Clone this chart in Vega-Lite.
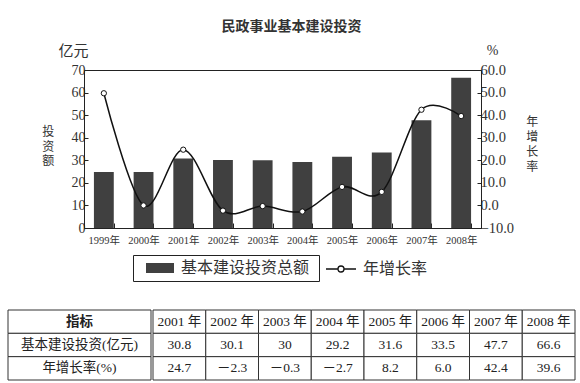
{
  "$schema": "https://vega.github.io/schema/vega-lite/v6.json",
  "padding": {"left": 7, "top": 19, "right": 5, "bottom": 5},
  "background": "white",
  "config": {"view": {"stroke": null}, "font": "'Liberation Serif', 'Noto Sans CJK SC'"},
  "title": {"text": "民政事业基本建设投资", "font": "'Noto Sans CJK SC'", "fontSize": 14, "fontWeight": "bold", "color": "#333", "anchor": "middle", "offset": 9},
  "datasets": {
    "main": [
      {"year": "1999年", "invest": 24.8, "growth": 49.7},
      {"year": "2000年", "invest": 24.8, "growth": 0.0},
      {"year": "2001年", "invest": 30.8, "growth": 24.7},
      {"year": "2002年", "invest": 30.1, "growth": -2.3},
      {"year": "2003年", "invest": 30.0, "growth": -0.3},
      {"year": "2004年", "invest": 29.2, "growth": -2.7},
      {"year": "2005年", "invest": 31.6, "growth": 8.2},
      {"year": "2006年", "invest": 33.5, "growth": 6.0},
      {"year": "2007年", "invest": 47.7, "growth": 42.4},
      {"year": "2008年", "invest": 66.6, "growth": 39.6}
    ],
    "tableLeft": [
      {"col": "指标", "row": "r1", "text": "指标"},
      {"col": "指标", "row": "r2", "text": "基本建设投资(亿元)"},
      {"col": "指标", "row": "r3", "text": "年增长率(%)"}
    ],
    "tableRight": [
      {"col": "2001 年", "row": "r1", "text": "2001 年"},
      {"col": "2002 年", "row": "r1", "text": "2002 年"},
      {"col": "2003 年", "row": "r1", "text": "2003 年"},
      {"col": "2004 年", "row": "r1", "text": "2004 年"},
      {"col": "2005 年", "row": "r1", "text": "2005 年"},
      {"col": "2006 年", "row": "r1", "text": "2006 年"},
      {"col": "2007 年", "row": "r1", "text": "2007 年"},
      {"col": "2008 年", "row": "r1", "text": "2008 年"},
      {"col": "2001 年", "row": "r2", "text": "30.8"},
      {"col": "2002 年", "row": "r2", "text": "30.1"},
      {"col": "2003 年", "row": "r2", "text": "30"},
      {"col": "2004 年", "row": "r2", "text": "29.2"},
      {"col": "2005 年", "row": "r2", "text": "31.6"},
      {"col": "2006 年", "row": "r2", "text": "33.5"},
      {"col": "2007 年", "row": "r2", "text": "47.7"},
      {"col": "2008 年", "row": "r2", "text": "66.6"},
      {"col": "2001 年", "row": "r3", "text": "24.7"},
      {"col": "2002 年", "row": "r3", "text": "－2.3"},
      {"col": "2003 年", "row": "r3", "text": "－0.3"},
      {"col": "2004 年", "row": "r3", "text": "－2.7"},
      {"col": "2005 年", "row": "r3", "text": "8.2"},
      {"col": "2006 年", "row": "r3", "text": "6.0"},
      {"col": "2007 年", "row": "r3", "text": "42.4"},
      {"col": "2008 年", "row": "r3", "text": "39.6"}
    ]
  },
  "spacing": 27,
  "resolve": {"scale": {"fill": "independent", "stroke": "independent"}, "legend": {"fill": "independent", "stroke": "independent"}},
  "vconcat": [
    {
      "spacing": 0,
      "hconcat": [
        {
          "width": 33,
          "height": 158,
          "data": {"name": "main"},
          "mark": {"type": "rule", "opacity": 0},
          "encoding": {}
        },
        {
          "width": 397,
          "height": 158,
          "data": {"name": "main"},
          "view": {"stroke": "#222", "strokeWidth": 1},
          "resolve": {"scale": {"y": "independent"}, "axis": {"x": "independent"}},
          "layer": [
            {
              "mark": {"type": "bar"},
              "encoding": {
                "x": {
                  "field": "year", "type": "nominal", "sort": null,
                  "scale": {"paddingInner": 0.5, "paddingOuter": 0.25},
                  "axis": {
                    "orient": "bottom", "labelAngle": 0, "labelFont": "'Liberation Serif', 'Noto Sans CJK SC'", "labelFontSize": 10.5, "labelColor": "#333", "labelPadding": 12,
                    "tickBand": "extent", "tickSize": -5, "tickColor": "#222", "domainColor": "#222",
                    "title": ["投", "资", "额"], "titleAngle": 0, "titleX": -36.3, "titleY": -101.5, "titleAlign": "center", "titleBaseline": "top",
                    "titleLineHeight": 14.5, "titleFont": "'Noto Sans CJK SC'", "titleFontSize": 12, "titleFontWeight": "normal", "titleColor": "#333"
                  }
                },
                "y": {
                  "field": "invest", "type": "quantitative",
                  "scale": {"domain": [0, 70], "nice": false},
                  "axis": {
                    "orient": "left", "values": [0, 10, 20, 30, 40, 50, 60, 70], "grid": false,
                    "labelFont": "'Liberation Serif'", "labelFontSize": 14, "labelColor": "#333", "labelPadding": 3,
                    "tickSize": -4, "tickColor": "#222", "domainColor": "#222",
                    "title": "亿元", "titleAngle": 0, "titleX": -11, "titleY": -20, "titleAlign": "center", "titleBaseline": "middle",
                    "titleFont": "'Noto Sans CJK SC'", "titleFontSize": 15, "titleFontWeight": "normal", "titleColor": "#333"
                  }
                },
                "fill": {
                  "datum": "基本建设投资总额",
                  "scale": {"range": ["#404040"]},
                  "legend": {
                    "orient": "none", "legendX": 125, "legendY": 185, "direction": "horizontal",
                    "title": "　　　　　　　", "titleOrient": "right", "titleFont": "'Noto Sans CJK SC'", "titleFontSize": 16, "titlePadding": 5,
                    "symbolType": "M0,-0.625H3.5V0.625H0Z", "symbolSize": 256, "symbolStrokeWidth": 0, "labelOffset": 27, "padding": 5,
                    "strokeColor": "#222", "labelFont": "'Noto Sans CJK SC'", "labelFontSize": 16, "labelColor": "#333", "labelLimit": 0
                  }
                }
              }
            },
            {
              "encoding": {
                "x": {
                  "field": "year", "type": "nominal", "sort": null,
                  "axis": {
                    "orient": "top", "labels": false, "ticks": false, "domain": false,
                    "title": ["年", "增", "长", "率"], "titleAngle": 0, "titleX": 447.7, "titleY": 46, "titleAlign": "center", "titleBaseline": "top",
                    "titleLineHeight": 15.3, "titleFont": "'Noto Sans CJK SC'", "titleFontSize": 12, "titleFontWeight": "normal", "titleColor": "#333"
                  }
                },
                "y": {
                  "field": "growth", "type": "quantitative",
                  "scale": {"domain": [-10, 60], "nice": false},
                  "axis": {
                    "orient": "right", "values": [-10, 0, 10, 20, 30, 40, 50, 60], "format": ".1f", "grid": false,
                    "labelFont": "'Liberation Serif'", "labelFontSize": 14.5, "labelColor": "#333", "labelPadding": 3,
                    "tickSize": -4, "tickColor": "#222", "domainColor": "#222",
                    "title": "%", "titleAngle": 0, "titleX": 11, "titleY": -20, "titleAlign": "center", "titleBaseline": "middle",
                    "titleFont": "'Liberation Serif'", "titleFontSize": 14, "titleFontWeight": "normal", "titleColor": "#333"
                  }
                }
              },
              "layer": [
                {
                  "mark": {"type": "line", "interpolate": "cardinal", "strokeWidth": 1.5},
                  "encoding": {
                    "stroke": {
                      "datum": "年增长率",
                      "scale": {"range": ["#111111"]},
                      "legend": {
                        "orient": "none", "legendX": 309, "legendY": 190, "direction": "horizontal", "title": null,
                        "symbolType": "M0,0H1.5M2.25,0H3.75M2.25,0A0.375,0.375,0,1,0,1.5,0A0.375,0.375,0,1,0,2.25,0", "symbolSize": 256,
                        "symbolStrokeWidth": 1.3, "symbolFillColor": "white", "labelOffset": 28, "padding": 0,
                        "labelFont": "'Noto Sans CJK SC'", "labelFontSize": 16, "labelColor": "#333", "labelLimit": 0
                      }
                    }
                  }
                },
                {
                  "mark": {"type": "point", "filled": true, "fill": "white", "stroke": "#111111", "strokeWidth": 1, "size": 28, "opacity": 1}
                }
              ]
            }
          ]
        }
      ]
    },
    {
      "spacing": 0,
      "hconcat": [
        {
          "width": 143,
          "height": 70,
          "data": {"name": "tableLeft"},
          "encoding": {
            "x": {"field": "col", "type": "nominal", "axis": null, "scale": {"paddingInner": 0, "paddingOuter": 0}},
            "y": {"field": "row", "type": "nominal", "axis": null, "sort": ["r1", "r2", "r3"], "scale": {"paddingInner": 0, "paddingOuter": 0}}
          },
          "layer": [
            {"mark": {"type": "rect", "fill": "white", "stroke": "#333", "strokeWidth": 1}},
            {"transform": [{"filter": "datum.row === 'r1'"}], "mark": {"type": "text", "fontSize": 13.5, "fontWeight": "bold", "color": "#222", "font": "'Noto Sans CJK SC'"}, "encoding": {"text": {"field": "text"}}},
            {"transform": [{"filter": "datum.row !== 'r1'"}], "mark": {"type": "text", "fontSize": 13.5, "color": "#222", "font": "'Liberation Serif', 'Noto Sans CJK SC'"}, "encoding": {"text": {"field": "text"}}}
          ]
        },
        {
          "width": 422,
          "height": 70,
          "data": {"name": "tableRight"},
          "encoding": {
            "x": {"field": "col", "type": "nominal", "axis": null, "sort": null, "scale": {"paddingInner": 0, "paddingOuter": 0}},
            "y": {"field": "row", "type": "nominal", "axis": null, "sort": ["r1", "r2", "r3"], "scale": {"paddingInner": 0, "paddingOuter": 0}}
          },
          "layer": [
            {"mark": {"type": "rect", "fill": "white", "stroke": "#333", "strokeWidth": 1}},
            {"mark": {"type": "text", "fontSize": 13.5, "color": "#222", "font": "'Liberation Serif', 'Noto Sans CJK SC'"}, "encoding": {"text": {"field": "text"}}}
          ]
        }
      ]
    }
  ]
}
